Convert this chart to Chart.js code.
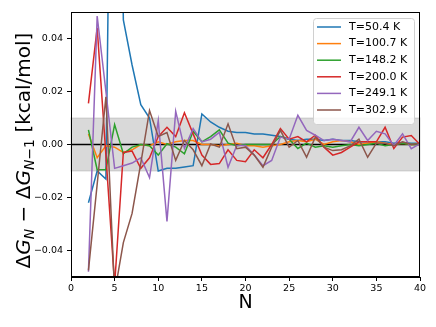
<!DOCTYPE html>
<html>
<head>
<meta charset="utf-8">
<script src="https://cdn.jsdelivr.net/npm/chart.js@4.4.0/dist/chart.umd.min.js"></script>
<style>
  html, body { margin: 0; padding: 0; background: #fff; }
  #wrap { width: 436px; height: 327px; }
</style>
</head>
<body>
<div id="wrap"><canvas id="Chart1"></canvas></div>
<script>
// N = 2 .. 40
let nValues = [];
for (let n = 2; n <= 40; n++) nValues.push(n);

let temps = ["T=50.4 K", "T=100.7 K", "T=148.2 K", "T=200.0 K", "T=249.1 K", "T=302.9 K"];
let colors = ["#1f77b4", "#ff7f0e", "#2ca02c", "#d62728", "#9467bd", "#8c564b"];

let t50 = [-0.022, -0.010, -0.013, 0.25, 0.047, 0.030, 0.015, 0.010, -0.010, -0.009,
  -0.009, -0.0085, -0.008, 0.0115, 0.0085, 0.0065, 0.005, 0.0045, 0.0045, 0.004,
  0.004, 0.0035, 0.003, 0.002, 0.0015, 0.002, 0.002, 0.0015, 0.002, 0.0015,
  0.0015, 0.001, 0.001, 0.001, 0.001, 0.0005, 0.0008, 0.0005, 0.0005];
let t100 = [0.004, -0.005, -0.0005, -0.001, -0.003, -0.002, 0.0, -0.0005, 0.001, 0.0,
  0.001, 0.0015, 0.0015, 0.0, 0.0, -0.0005, 0.0, 0.0005, -0.0005, -0.0005,
  -0.001, -0.0005, 0.0, 0.001, 0.0015, 0.001, 0.002, 0.0, 0.001, 0.0015,
  0.001, 0.0, 0.0005, 0.001, 0.0005, 0.0, 0.0005, 0.0, 0.0];
let t148 = [0.0055, -0.0095, -0.0095, 0.0075, -0.0035, -0.001, 0.0, -0.0005, -0.004, 0.0003,
  -0.001, -0.0035, 0.005, 0.001, 0.003, 0.0055, 0.0005, -0.0005, 0.0, 0.0,
  0.0, 0.0, 0.003, 0.002, -0.0015, 0.0005, -0.001, -0.0005, -0.001, -0.0005,
  0.0, -0.0005, 0.0, 0.0005, -0.0005, 0.0, 0.0005, 0.0, 0.0];
let t200 = [0.0155, 0.044, -0.004, -0.053, -0.003, -0.0025, -0.009, -0.005, 0.003, 0.0065,
  0.003, 0.012, 0.004, -0.004, -0.0075, -0.0072, -0.002, -0.006, -0.0065, -0.002,
  -0.005, 0.0, 0.006, 0.002, 0.003, 0.001, 0.0035, -0.001, -0.004, -0.003,
  -0.001, 0.001, 0.001, 0.001, 0.0065, -0.0015, 0.0028, 0.0034, 0.0];
let t249 = [-0.048, 0.0485, 0.020, -0.009, -0.008, -0.007, -0.005, -0.0125, 0.009, -0.029,
  0.0125, -0.0015, 0.006, 0.001, 0.002, 0.0046, -0.0086, -0.0004, -0.0004, -0.004,
  -0.008, -0.006, 0.0028, 0.002, 0.011, 0.0053, 0.0035, 0.0015, 0.002, 0.0015,
  0.001, 0.0065, 0.0015, 0.005, 0.004, -0.0004, 0.004, -0.0016, 0.0003];
let t303 = [-0.0475, -0.015, 0.018, -0.056, -0.037, -0.026, -0.007, 0.0128, 0.003, 0.0045,
  -0.006, 0.0015, -0.002, -0.008, 0.0002, -0.001, 0.0078, -0.0016, -0.001, -0.004,
  -0.0086, -0.001, 0.0053, -0.001, 0.0015, -0.0048, 0.0028, -0.001, -0.0023, -0.002,
  -0.0005, 0.002, -0.0048, 0.0005, 0.0005, -0.0005, 0.001, 0.0, 0.0005];

let series = [t50, t100, t148, t200, t249, t303];
let yTicks = [-0.04, -0.02, 0.00, 0.02, 0.04];
let xTicks = [0, 5, 10, 15, 20, 25, 30, 35, 40];

let datasets = series.map((vals, i) => ({
  label: temps[i],
  data: vals.map((v, k) => ({x: nValues[k], y: v})),
  borderColor: colors[i],
  backgroundColor: colors[i],
  borderWidth: 1.5,
  pointRadius: 0,
  tension: 0,
  order: series.length - 1 - i
}));

function fmt(v) {
  let s = Math.abs(v).toFixed(2);
  return (v < -1e-9 ? "\u2212" : "") + s;
}

// grey band, zero line, frame, legend and y label
let decor = {
  id: "decor",
  beforeDatasetsDraw(chart) {
    let {ctx, chartArea, scales} = chart;
    let y1 = scales.y.getPixelForValue(0.01);
    let y2 = scales.y.getPixelForValue(-0.01);
    ctx.save();
    ctx.fillStyle = "rgba(128,128,128,0.3)";
    ctx.fillRect(chartArea.left, y1, chartArea.right - chartArea.left, y2 - y1);
    ctx.strokeStyle = "rgba(128,128,128,0.3)";
    ctx.lineWidth = 1;
    ctx.strokeRect(chartArea.left, y1, chartArea.right - chartArea.left, y2 - y1);
    let y0 = scales.y.getPixelForValue(0);
    ctx.strokeStyle = "#000";
    ctx.lineWidth = 1.5;
    ctx.beginPath();
    ctx.moveTo(chartArea.left, y0);
    ctx.lineTo(chartArea.right, y0);
    ctx.stroke();
    ctx.restore();
  },
  afterDraw(chart) {
    let {ctx, chartArea} = chart;
    ctx.save();
    // frame
    ctx.strokeStyle = "#000";
    ctx.lineWidth = 1;
    ctx.strokeRect(chartArea.left + 0.5, chartArea.top + 0.5,
      chartArea.right - chartArea.left - 1, chartArea.bottom - chartArea.top - 1);

    // legend
    let lx = chartArea.right - 107, ly = chartArea.top + 6;
    let lw = 101, lh = 106;
    ctx.fillStyle = "rgba(255,255,255,0.85)";
    ctx.strokeStyle = "#d0d0d0";
    ctx.lineWidth = 1;
    ctx.beginPath();
    ctx.roundRect(lx + 0.5, ly + 0.5, lw, lh, 3);
    ctx.fill();
    ctx.stroke();
    ctx.font = "11px 'DejaVu Sans'";
    ctx.textBaseline = "middle";
    chart.data.datasets.forEach((ds, i) => {
      let yy = ly + 9 + i * 16.6;
      ctx.strokeStyle = ds.borderColor;
      ctx.lineWidth = 1.5;
      ctx.beginPath();
      ctx.moveTo(lx + 4, yy);
      ctx.lineTo(lx + 28, yy);
      ctx.stroke();
      ctx.fillStyle = "#000";
      ctx.fillText(ds.label, lx + 36, yy);
    });

    // y axis label with subscripts
    let fs = 20, sub = 14;
    let parts = [
      {t: "\u0394", f: fs + "px 'DejaVu Sans'", dy: 0},
      {t: "G", f: "italic " + fs + "px 'DejaVu Sans'", dy: 0},
      {t: "N", f: "italic " + sub + "px 'DejaVu Sans'", dy: 4},
      {t: " \u2212 \u0394", f: fs + "px 'DejaVu Sans'", dy: 0},
      {t: "G", f: "italic " + fs + "px 'DejaVu Sans'", dy: 0},
      {t: "N", f: "italic " + sub + "px 'DejaVu Sans'", dy: 4},
      {t: "\u22121", f: sub + "px 'DejaVu Sans'", dy: 4},
      {t: " [kcal/mol]", f: fs + "px 'DejaVu Sans'", dy: 0}
    ];
    let total = 0;
    parts.forEach(p => { ctx.font = p.f; p.w = ctx.measureText(p.t).width; total += p.w; });
    ctx.translate(30, (chartArea.top + chartArea.bottom) / 2 + 6);
    ctx.rotate(-Math.PI / 2);
    ctx.fillStyle = "#000";
    ctx.textBaseline = "alphabetic";
    let x = -total / 2;
    parts.forEach(p => {
      ctx.font = p.f;
      ctx.fillText(p.t, x, p.dy);
      x += p.w;
    });
    ctx.restore();
  }
};

let config = {
  type: "line",
  data: {datasets},
  options: {
    responsive: false,
    animation: false,
    layout: {padding: {left: 0, right: 16, top: 12, bottom: 0}},
    plugins: {
      legend: {display: false},
      tooltip: {enabled: false}
    },
    scales: {
      x: {
        type: "linear",
        min: 0,
        max: 40,
        afterBuildTicks: s => { s.ticks = xTicks.map(v => ({value: v})); },
        afterFit: s => { s.height = 50; },
        grid: {display: true, drawOnChartArea: false, drawTicks: true, tickLength: 4, color: "#000"},
        border: {display: true, color: "#000"},
        ticks: {color: "#000", font: {family: "DejaVu Sans", size: 9.5}, padding: 2, maxRotation: 0},
        title: {display: true, text: "N", color: "#000", font: {family: "DejaVu Sans", size: 19}, padding: {top: 0, bottom: 13}}
      },
      y: {
        min: -0.05,
        max: 0.05,
        afterBuildTicks: s => { s.ticks = yTicks.map(v => ({value: v})); },
        afterFit: s => { s.width = 71; },
        grid: {display: true, drawOnChartArea: false, drawTicks: true, tickLength: 4, color: "#000"},
        border: {display: true, color: "#000"},
        ticks: {color: "#000", font: {family: "DejaVu Sans", size: 9.5}, padding: 4, callback: v => fmt(v)}
      }
    }
  },
  plugins: [decor]
};

let canvas = document.getElementById("Chart1");
canvas.width = 436;
canvas.height = 327;
const myChart1 = new Chart(canvas, config);
</script>
</body>
</html>
